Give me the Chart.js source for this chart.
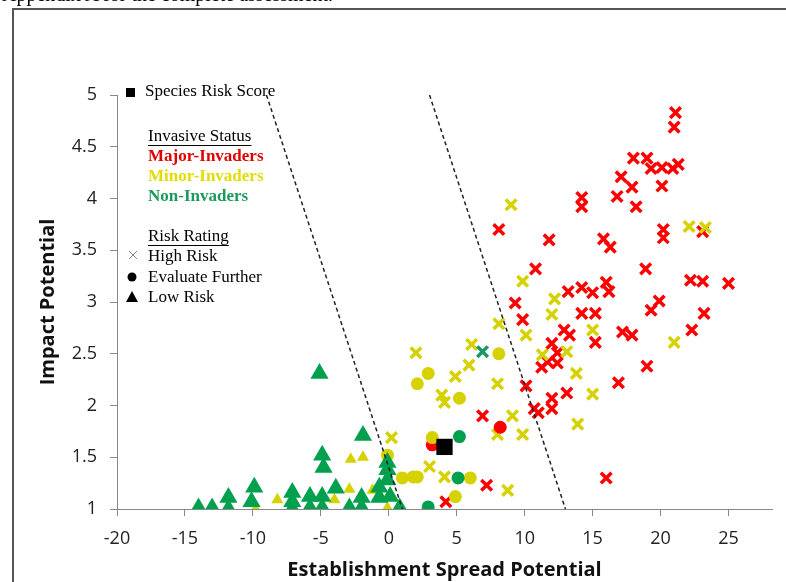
<!DOCTYPE html>
<html><head><meta charset="utf-8">
<script src="https://cdn.jsdelivr.net/npm/chart.js@4/dist/chart.umd.min.js"></script>
<style>
html,body{margin:0;padding:0;background:#fff;width:786px;height:582px;overflow:hidden;position:relative;}
#wrap{position:absolute;left:0;top:0;width:786px;height:582px;}
#frame{position:absolute;left:12px;top:8px;width:900px;height:700px;border:2px solid #555;box-sizing:border-box;pointer-events:none;}
#top{position:absolute;left:2px;top:-16px;font:20px "Liberation Serif","Times New Roman",serif;line-height:20px;color:#000;white-space:nowrap;z-index:5;}
</style></head><body>
<div id="wrap"><canvas id="c"></canvas></div>
<div id="frame"></div>
<div id="top">Appendix A for the complete assessment.</div>
<script>
// ---- data ----
const xTicks = [-20,-15,-10,-5,0,5,10,15,20,25];
const yTicks = [1,1.5,2,2.5,3,3.5,4,4.5,5];
const boundaryLow = [[-9,5],[1,1]];
const boundaryHigh = [[3,5],[13,1]];
const speciesScore = [[4.1,1.60]];
const majorHigh = [
[21.1,4.83],[21.0,4.69],[18.0,4.39],[19.0,4.39],[19.3,4.29],[20.1,4.30],[20.9,4.29],[21.3,4.33],
[17.1,4.21],[17.9,4.11],[20.1,4.12],[16.8,4.02],[18.2,3.92],[14.2,4.01],[14.2,3.92],[8.1,3.70],
[11.8,3.60],[15.8,3.61],[16.3,3.53],[20.2,3.70],[20.2,3.62],[23.1,3.68],[10.8,3.32],[18.9,3.32],
[22.2,3.21],[23.1,3.20],[25.0,3.18],[13.2,3.10],[14.2,3.14],[15.0,3.09],[16.0,3.19],[16.2,3.10],
[9.3,2.99],[9.85,2.83],[19.3,2.92],[19.9,3.01],[23.2,2.89],[14.2,2.89],[15.2,2.89],[12.9,2.73],
[13.3,2.68],[15.2,2.61],[17.2,2.71],[17.9,2.68],[22.3,2.73],[12.0,2.60],[19.0,2.38],[16.9,2.22],
[13.1,2.12],[12.4,2.51],[11.7,2.42],[12.4,2.41],[11.25,2.37],[10.1,2.19],[12.0,2.07],[10.7,1.97],
[12.0,1.97],[11.0,1.93],[6.9,1.90],[7.2,1.23],[4.2,1.07],[16.0,1.30]
];
const minorHigh = [
[0.2,1.69],[2.0,2.51],[3.0,1.41],[4.1,1.31],[3.9,2.10],[4.1,2.03],[4.9,2.28],[5.9,2.39],
[6.1,2.59],[8.0,2.21],[8.0,1.72],[8.75,1.18],[9.1,1.90],[9.85,1.72],[8.1,2.79],[9.0,3.94],
[9.85,3.20],[10.1,2.68],[11.3,2.49],[12.0,2.88],[12.2,3.03],[13.1,2.52],[13.8,2.31],[15.0,2.11],
[15.0,2.73],[21.0,2.61],[22.1,3.73],[23.3,3.72],[13.9,1.82]
];
const nonHigh = [[6.9,2.52]];
const majorEval = [[3.2,1.62],[8.2,1.79]];
const minorEval = [[-0.1,1.52],[1.0,1.30],[1.8,1.31],[2.1,1.31],[2.1,2.21],[2.9,2.31],[3.2,1.69],
[5.2,2.07],[6.0,1.30],[4.9,1.12],[8.1,2.50]];
const nonEval = [[5.2,1.70],[5.1,1.30],[2.9,1.02]];
const minorLow = [[-9.8,1.0],[-8.2,1.09],[-4.0,1.09],[-2.9,1.19],[-2.8,1.48],[-1.9,1.50],[-1.2,1.18],[-0.1,1.01]];
const nonLow = [
[-14.0,1.01],[-13.0,1.01],[-11.8,1.11],[-11.8,1.0],[-10.1,1.07],[-9.9,1.21],[-7.1,1.16],[-7.1,1.07],
[-7.1,1.0],[-5.8,1.12],[-5.8,1.01],[-4.9,1.12],[-4.9,1.01],[-5.1,2.31],[-4.9,1.52],[-4.8,1.40],
[-3.9,1.20],[-2.9,1.01],[-2.0,1.11],[-2.0,1.01],[-1.9,1.71],[-0.7,1.21],[-0.7,1.11],[-0.1,1.38],
[-0.1,1.28],[-0.1,1.45],[0.1,1.12],[0.8,1.01]
];

// ---- colours ----
const RED = '#ff0000', YEL = '#d6d200', GRN = '#00a04e', GRNX = '#16996a';

const pts = a => a.map(p => ({x:p[0], y:p[1]}));
function ds(data, style, color, radius){
  return {data: pts(data), pointStyle: style, pointRadius: radius, pointHoverRadius: radius,
    backgroundColor: color, borderColor: color, pointBorderWidth: style==='crossRot'?3.5:0,
    borderWidth: style==='crossRot'?3.5:0, showLine:false};
}
function lineDs(data){
  return {type:'line', data: pts(data), showLine:true, pointRadius:0, borderColor:'#222', borderWidth:1.5,
    borderDash:[4,3], fill:false, tension:0};
}

const datasets = [
  lineDs(boundaryLow), lineDs(boundaryHigh),
  ds(speciesScore,'rect','#000',11.5),
  ds(nonLow,'triangle',GRN,10.5),
  ds(minorLow,'triangle',YEL,7),
  ds(nonEval,'circle',GRN,6.5),
  ds(minorEval,'circle',YEL,6.5),
  ds(majorEval,'circle',RED,6.5),
  ds(nonHigh,'crossRot',GRNX,7.5),
  ds(minorHigh,'crossRot',YEL,7.5),
  ds(majorHigh,'crossRot',RED,7.5)
];

const serif = '"Liberation Serif","Times New Roman",serif';
const legendPlugin = {
  id:'customLegend',
  afterDraw(chart){
    const c = chart.ctx; c.save();
    c.textBaseline='middle'; c.textAlign='left';
    const tx = 148;
    c.fillStyle='#000'; c.fillRect(126,88,9,9);
    c.font='17px '+serif; c.fillText('Species Risk Score',145,92);
    function under(t,y){ c.fillStyle='#000'; c.font='17px '+serif; c.fillText(t,tx,y);
      const w=c.measureText(t).width; c.fillRect(tx,y+8,w,1); }
    under('Invasive Status',137);
    c.font='bold 17px '+serif;
    c.fillStyle='#e00000'; c.fillText('Major-Invaders',tx,157);
    c.fillStyle='#e2dc00'; c.fillText('Minor-Invaders',tx,177);
    c.fillStyle='#1a9a5c'; c.fillText('Non-Invaders',tx,197);
    under('Risk Rating',237);
    c.font='17px '+serif; c.fillStyle='#000';
    c.fillText('High Risk',tx,257); c.fillText('Evaluate Further',tx,278); c.fillText('Low Risk',tx,298);
    c.strokeStyle='#888'; c.lineWidth=1; c.beginPath();
    c.moveTo(129,251); c.lineTo(137,259); c.moveTo(137,251); c.lineTo(129,259); c.stroke();
    c.fillStyle='#000'; c.beginPath(); c.arc(132,277,4.5,0,Math.PI*2); c.fill();
    c.beginPath(); c.moveTo(132,291); c.lineTo(138,302); c.lineTo(126,302); c.closePath(); c.fill();
    c.restore();
  }
};
const whiteBg = {id:'bg', beforeDraw(chart){const c=chart.ctx;c.save();c.fillStyle='#fff';c.fillRect(0,0,chart.width,chart.height);c.restore();}};

const tickFont = {family:'"Open Sans",sans-serif', size:18};
const titleFont = {family:'"Open Sans",sans-serif', size:20, weight:'bold'};
new Chart(document.getElementById('c'), {
  type:'scatter',
  data:{datasets},
  options:{
    responsive:true, maintainAspectRatio:false, animation:false,
    layout:{padding:{left:0, top:95, right:14, bottom:0}},
    plugins:{legend:{display:false}, tooltip:{enabled:false}},
    scales:{
      x:{type:'linear', min:-20, max:28.2,
        afterBuildTicks: s => { s.ticks = xTicks.map(v=>({value:v})); },
        afterFit: s => { s.height = 73; },
        grid:{drawOnChartArea:false, drawTicks:true, tickLength:7, color:'#888'},
        border:{color:'#888', width:1},
        ticks:{font:tickFont, color:'#222', padding:12, maxRotation:0, callback: v => String(v)},
        title:{display:true, text:'Establishment Spread Potential', color:'#111', font:titleFont, padding:{top:0,bottom:0}}
      },
      y:{type:'linear', min:1, max:5,
        afterBuildTicks: s => { s.ticks = yTicks.map(v=>({value:v})); },
        afterFit: s => { s.width = 117; },
        grid:{drawOnChartArea:false, drawTicks:true, tickLength:7, color:'#888'},
        border:{color:'#888', width:1},
        ticks:{font:tickFont, color:'#222', padding:13, callback: v => String(v)},
        title:{display:true, text:'Impact Potential', color:'#111', font:titleFont, padding:{top:36,bottom:0}}
      }
    }
  },
  plugins:[whiteBg, legendPlugin]
});
</script>
</body></html>
